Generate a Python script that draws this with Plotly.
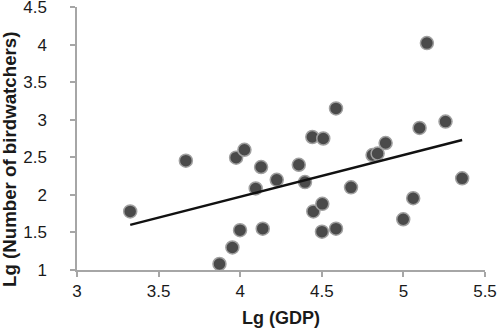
import plotly.graph_objects as go

# Data
lg_gdp = [3.326, 3.667, 3.873, 3.952, 3.999, 3.975, 4.026, 4.095, 4.128, 4.138,
          4.224, 4.359, 4.397, 4.442, 4.448, 4.509, 4.503, 4.501, 4.587, 4.587,
          4.679, 4.811, 4.842, 4.891, 4.999, 5.060, 5.099, 5.144, 5.258, 5.360]
lg_birdwatchers = [1.78, 2.455, 1.08, 1.30, 1.53, 2.495, 2.60, 2.085, 2.37, 1.55,
                   2.20, 2.40, 2.17, 2.77, 1.78, 2.75, 1.88, 1.51, 1.55, 3.15,
                   2.10, 2.53, 2.55, 2.69, 1.675, 1.955, 2.89, 4.02, 2.975, 2.22]
trend_x = [3.326, 5.360]
trend_y = [1.60, 2.73]

x_ticks = [3, 3.5, 4, 4.5, 5, 5.5]
x_tick_labels = ["3", "3.5", "4", "4.5", "5", "5.5"]
y_ticks = [1, 1.5, 2, 2.5, 3, 3.5, 4, 4.5]
y_tick_labels = ["1", "1.5", "2", "2.5", "3", "3.5", "4", "4.5"]

FONT = "Liberation Sans, Arial, sans-serif"
AXIS_COLOR = "#a6a6a6"

fig = go.Figure()
fig.add_trace(go.Scatter(
    x=lg_gdp, y=lg_birdwatchers, mode="markers",
    marker=dict(size=13, color="#4a4a4a", line=dict(color="#a0a0a0", width=1.5)),
    showlegend=False, hoverinfo="x+y",
))
fig.add_trace(go.Scatter(
    x=trend_x, y=trend_y, mode="lines",
    line=dict(color="#111111", width=2.5), showlegend=False,
))

fig.update_layout(
    width=497, height=329,
    margin=dict(l=77, r=12, t=7, b=59),
    paper_bgcolor="white", plot_bgcolor="white",
    font=dict(family=FONT, size=17, color="#1a1a1a"),
    xaxis=dict(
        range=[3, 5.5], tickvals=x_ticks, ticktext=x_tick_labels,
        showgrid=False, zeroline=False, showline=True, linecolor=AXIS_COLOR, linewidth=1.5,
        ticks="outside", ticklen=5, tickcolor=AXIS_COLOR, tickwidth=1.5,
        tickfont=dict(size=17), automargin=False, ticklabeloverflow="allow",
        ticklabelstandoff=0,
    ),
    yaxis=dict(
        range=[1, 4.5], tickvals=y_ticks, ticktext=y_tick_labels,
        showgrid=False, zeroline=False, showline=True, linecolor=AXIS_COLOR, linewidth=1.5,
        ticks="outside", ticklen=5, tickcolor=AXIS_COLOR, tickwidth=1.5,
        tickfont=dict(size=17), automargin=False, ticklabeloverflow="allow",
        ticklabelstandoff=20,
    ),
    annotations=[
        dict(text="<b>Lg (GDP)</b>", xref="paper", yref="paper", x=0.5, y=-0.1825,
             xanchor="center", yanchor="middle", showarrow=False,
             font=dict(family=FONT, size=18, color="#1a1a1a")),
        dict(text="<b>Lg (Number of birdwatchers)</b>", xref="paper", yref="paper",
             x=-0.1667, y=0.422, xanchor="center", yanchor="middle", textangle=-90,
             showarrow=False, font=dict(family=FONT, size=18.7, color="#1a1a1a")),
    ],
)

fig.write_html("out.html", config={"displayModeBar": False},
               post_script="document.body.style.margin='0px';")
